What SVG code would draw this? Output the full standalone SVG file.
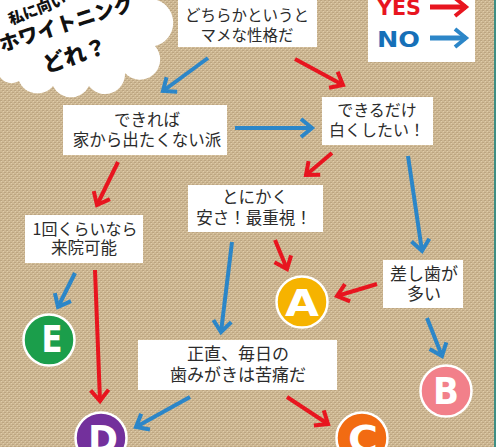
<svg xmlns="http://www.w3.org/2000/svg" width="496" height="447" viewBox="0 0 496 447">
<style>
.box{fill:#ffffff}
.t{font-family:"Noto Sans CJK JP","Noto Sans",sans-serif;fill:#2b2b2b;text-anchor:middle}
.cl{font-family:"Noto Sans CJK JP","Noto Sans",sans-serif;font-weight:900;fill:#111}
.red{stroke:#e8151f;stroke-width:4;fill:none;marker-end:url(#mr)}
.blue{stroke:#2c86c8;stroke-width:4;fill:none;marker-end:url(#mb)}
.circ{stroke:#ffffff;stroke-width:2.5}
.let{font-family:"DejaVu Sans",sans-serif;font-weight:bold;fill:#ffffff;text-anchor:middle;font-size:38px}
.leg{font-family:"DejaVu Sans",sans-serif;font-weight:bold;font-size:21px}
</style>
<defs>
<pattern id="burlap" width="4" height="4" patternUnits="userSpaceOnUse">
<rect width="4" height="4" fill="#ceb894"/>
<rect x="0" y="0" width="2" height="1" fill="#bca581"/>
<rect x="2" y="2" width="2" height="1" fill="#bca581"/>
<rect x="1" y="1" width="1" height="1" fill="#dfcdab"/>
<rect x="3" y="3" width="1" height="1" fill="#dfcdab"/>
</pattern>
<marker id="mr" markerUnits="userSpaceOnUse" markerWidth="30" markerHeight="30" viewBox="-15 -15 30 30" refX="0" refY="0" orient="auto" overflow="visible">
<path d="M-11,-9 L0,0 L-11,9" fill="none" stroke="#e8151f" stroke-width="4"/>
</marker>
<marker id="mb" markerUnits="userSpaceOnUse" markerWidth="30" markerHeight="30" viewBox="-15 -15 30 30" refX="0" refY="0" orient="auto" overflow="visible">
<path d="M-11,-9 L0,0 L-11,9" fill="none" stroke="#2c86c8" stroke-width="4"/>
</marker>
</defs>
<rect width="496" height="447" fill="url(#burlap)"/>
<rect x="494" y="0" width="2" height="447" fill="#3f8e84"/>

<g id="title">
<path d="M0,0 L157,0 A24 24 0 0 1 155,46 A18 18 0 0 1 125,73 A20 20 0 0 1 89,86 A20 20 0 0 1 53,86 A20 20 0 0 1 19,81 A14 14 0 0 1 0,77 Z" fill="#ffffff"/>
<text class="cl" font-size="15" transform="translate(11,25) rotate(-21)">私に向い</text>
<text class="cl" font-size="20" transform="translate(2,52) rotate(-18)">ホワイトニング</text>
<text class="cl" font-size="22" transform="translate(46,73) rotate(-18)">どれ？</text>
</g>

<g id="legend">
<rect x="368" y="-2" width="107" height="64" class="box"/>
<text class="leg" x="377" y="15" fill="#e8151f" textLength="44" lengthAdjust="spacingAndGlyphs">YES</text>
<text class="leg" x="377" y="47" fill="#1670b8" textLength="43" lengthAdjust="spacingAndGlyphs">NO</text>
<line x1="430" y1="7" x2="466" y2="7" stroke="#e8151f" stroke-width="5" marker-end="url(#mr)"/>
<line x1="430" y1="38" x2="466" y2="38" stroke="#2c86c8" stroke-width="5" marker-end="url(#mb)"/>
</g>

<g id="connectors">
<line class="blue" x1="208" y1="58" x2="163" y2="91"/>
<line class="red" x1="295" y1="59" x2="343" y2="85"/>
<line class="blue" x1="235" y1="128" x2="312" y2="128"/>
<line class="red" x1="118" y1="162" x2="97" y2="205"/>
<line class="red" x1="332" y1="153" x2="306" y2="175"/>
<line class="blue" x1="408" y1="156" x2="422" y2="251"/>
<line class="blue" x1="75" y1="273" x2="58" y2="307"/>
<line class="red" x1="95" y1="270" x2="100" y2="401"/>
<line class="blue" x1="232" y1="242" x2="221" y2="332"/>
<line class="red" x1="275" y1="240" x2="287" y2="269"/>
<line class="red" x1="377" y1="284" x2="337" y2="296"/>
<line class="blue" x1="427" y1="318" x2="442" y2="356"/>
<line class="blue" x1="190" y1="397" x2="136" y2="427"/>
<line class="red" x1="287" y1="397" x2="328" y2="424"/>
</g>

<g id="q1">
<rect x="178" y="-2" width="139" height="49" class="box"/>
<text class="t" x="247" y="21" font-size="15.5">どちらかというと</text>
<text class="t" x="247" y="41" font-size="15.5">マメな性格だ</text>
</g>
<g id="q2">
<rect x="63" y="105" width="164" height="50" class="box"/>
<text class="t" x="147" y="126" font-size="16.5">できれば</text>
<text class="t" x="147" y="146" font-size="16.5">家から出たくない派</text>
</g>
<g id="q3">
<rect x="322" y="97" width="111" height="48" class="box"/>
<text class="t" x="377" y="116" font-size="16">できるだけ</text>
<text class="t" x="377" y="136" font-size="16">白くしたい！</text>
</g>
<g id="q4">
<rect x="25" y="215" width="118" height="48" class="box"/>
<text class="t" x="85" y="235" font-size="16">1回くらいなら</text>
<text class="t" x="84" y="254" font-size="16.5">来院可能</text>
</g>
<g id="q5">
<rect x="188" y="185" width="135" height="47" class="box"/>
<text class="t" x="255" y="203" font-size="16.5">とにかく</text>
<text class="t" x="254" y="224" font-size="16.5">安さ！最重視！</text>
</g>
<g id="q6">
<rect x="383" y="260" width="80" height="48" class="box"/>
<text class="t" x="424" y="280" font-size="17">差し歯が</text>
<text class="t" x="424" y="300" font-size="17">多い</text>
</g>
<g id="q7">
<rect x="138" y="340" width="199" height="50" class="box"/>
<text class="t" x="238" y="360" font-size="17">正直、毎日の</text>
<text class="t" x="238" y="381" font-size="17">歯みがきは苦痛だ</text>
</g>

<g id="resA">
<circle cx="302" cy="302" r="25.5" fill="#f6b300" class="circ"/>
<text class="let" x="302" y="316" textLength="34" lengthAdjust="spacingAndGlyphs">A</text>
</g>
<g id="resB">
<circle cx="446" cy="391" r="25.5" fill="#f2808a" class="circ"/>
<text class="let" x="446" y="404" textLength="26" lengthAdjust="spacingAndGlyphs">B</text>
</g>
<g id="resC">
<circle cx="362" cy="438" r="25.5" fill="#f26b12" class="circ"/>
<text class="let" x="363" y="452" textLength="30" lengthAdjust="spacingAndGlyphs">C</text>
</g>
<g id="resD">
<circle cx="101" cy="438" r="25.5" fill="#73309c" class="circ"/>
<text class="let" x="103" y="452" textLength="30" lengthAdjust="spacingAndGlyphs">D</text>
</g>
<g id="resE">
<circle cx="49" cy="340" r="25.5" fill="#1b9e4b" class="circ"/>
<text class="let" x="52" y="352" textLength="21" lengthAdjust="spacingAndGlyphs">E</text>
</g>
</svg>
